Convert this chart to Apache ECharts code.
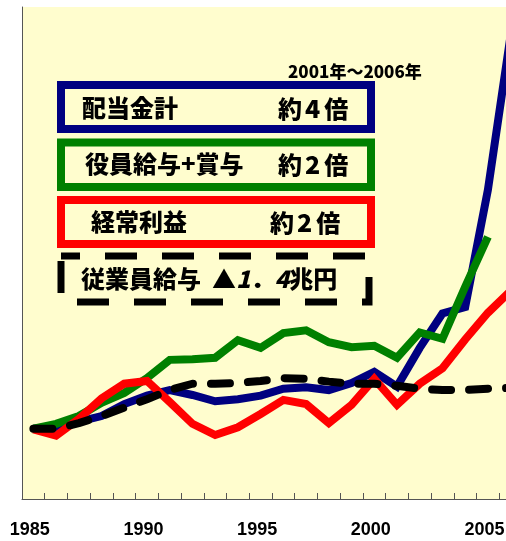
<!DOCTYPE html>
<html>
<head>
<meta charset="utf-8">
<script src="https://cdn.jsdelivr.net/npm/echarts@6/dist/echarts.min.js"></script>
<style>
html,body{margin:0;padding:0;background:#fff;overflow:hidden;width:506px;height:541px;}
#chart{width:522px;height:541px;}
</style>
</head>
<body>
<div id="chart"></div>
<script>
// Categories (years)
const years = ['1985','1986','1987','1988','1989','1990','1991','1992','1993','1994','1995',
               '1996','1997','1998','1999','2000','2001','2002','2003','2004','2005','2006'];
// 配当金計 (index, 1985 = 100)
const dividends = [100, 102, 110, 118, 135, 147, 155, 148, 139, 142, 147,
                   157, 159, 155, 165, 181, 160, 215, 264, 273, 440, 660];
// 役員給与+賞与
const executivePay = [100, 107, 118, 137, 151, 172, 198, 199, 201, 226, 215,
                      236, 240, 223, 216, 218, 201, 237, 228, 302, 373, null];
// 経常利益
const ordinaryProfit = [99, 90, 114, 143, 164, 168, 138, 107, 91, 102, 121,
                        141, 135, 108, 134, 171, 134, 164, 186, 227, 265, 296];
// 従業員給与
const employeePay = [100, 100, 108, 118, 130, 142, 155, 164, 164, 165, 168,
                     172, 171, 167, 164, 164, 161, 157, 155, 155, 157, 158];

const yMin = 0, yMax = 700;

const chart = echarts.init(document.getElementById('chart'), null, {renderer: 'canvas'});
const cjk = '"Noto Sans CJK JP", "Noto Sans CJK SC", sans-serif';
const heavy = '900 24px ' + cjk;

function boxText(text, x, y, size, rich) {
  return {
    type: 'text', left: x, top: y - size / 2 - 1, z: 20,
    style: { text: text, font: '900 ' + size + 'px ' + cjk, fill: '#000', rich: rich || {} }
  };
}
const digitRich = { d: { font: '900 25px ' + cjk, fill: '#000', padding: [0, 4, 0, 3] } };

chart.setOption({
  animation: false,
  backgroundColor: '#ffffff',
  grid: {
    left: 22, top: 7, right: 0, bottom: 42,
    show: true, backgroundColor: '#FFFDCE', borderWidth: 0
  },
  xAxis: {
    type: 'category',
    data: years,
    boundaryGap: true,
    axisLine: { show: true, lineStyle: { color: '#555', width: 1 } },
    axisTick: { show: true, inside: true, length: 6, interval: 0, lineStyle: { color: '#555' } },
    axisLabel: {
      interval: 4, margin: 22, color: '#000',
      fontFamily: '"Liberation Sans", Arial, sans-serif', fontWeight: 'bold', fontSize: 18,
      padding: [0, 7, 0, 0]
    },
    splitLine: { show: false }
  },
  yAxis: {
    type: 'value', min: yMin, max: yMax,
    axisLine: { show: true, lineStyle: { color: '#555', width: 1 } },
    axisTick: { show: false },
    axisLabel: { show: false },
    splitLine: { show: false }
  },
  series: [
    { name: '配当金計', type: 'line', data: dividends, symbol: 'none', z: 2,
      lineStyle: { color: '#000080', width: 8, cap: 'butt', join: 'miter' } },
    { name: '役員給与+賞与', type: 'line', data: executivePay, symbol: 'none', z: 3,
      lineStyle: { color: '#008000', width: 8, cap: 'butt', join: 'miter' } },
    { name: '経常利益', type: 'line', data: ordinaryProfit, symbol: 'none', z: 4,
      lineStyle: { color: '#FF0000', width: 8, cap: 'butt', join: 'miter' } },
    { name: '従業員給与', type: 'line', data: employeePay, symbol: 'none', z: 5,
      lineStyle: { color: '#000000', width: 8, type: [19, 18], cap: 'round', join: 'round' } }
  ],
  graphic: [
    { type: 'rect', z: 10, shape: { x: 61, y: 85, width: 310, height: 44 },
      style: { fill: 'none', stroke: '#000080', lineWidth: 8 } },
    { type: 'rect', z: 10, shape: { x: 61, y: 142.5, width: 310, height: 44.5 },
      style: { fill: 'none', stroke: '#008000', lineWidth: 8 } },
    { type: 'rect', z: 10, shape: { x: 61, y: 200, width: 310, height: 44 },
      style: { fill: 'none', stroke: '#FF0000', lineWidth: 8 } },
    { type: 'rect', z: 10, shape: { x: 61, y: 256, width: 308, height: 46 },
      style: { fill: 'none', stroke: '#000', lineWidth: 7, lineDash: [32, 25], lineDashOffset: 13 } },
    boxText('配当金計', 82, 109, 24),
    boxText('約{d|4}倍', 278, 109, 24, digitRich),
    boxText('役員給与+賞与', 85, 165, 24),
    boxText('約{d|2}倍', 278, 165, 24, digitRich),
    boxText('経常利益', 91, 223, 24),
    boxText('約{d|2}倍', 270, 223, 24, digitRich),
    boxText('2001年～2006年', 288, 73, 17),
    {
      type: 'text', left: 81, top: 267, z: 20,
      style: {
        text: '従業員給与  {a|▲}{b|1}{c|．}{b|4}{a|兆円}',
        font: heavy, fill: '#000',
        rich: {
          a: { font: heavy, fill: '#000' },
          b: { font: 'italic 900 24px ' + cjk, fill: '#000' },
          c: { font: heavy, fill: '#000' }
        }
      }
    }
  ]
});
</script>
</body>
</html>
